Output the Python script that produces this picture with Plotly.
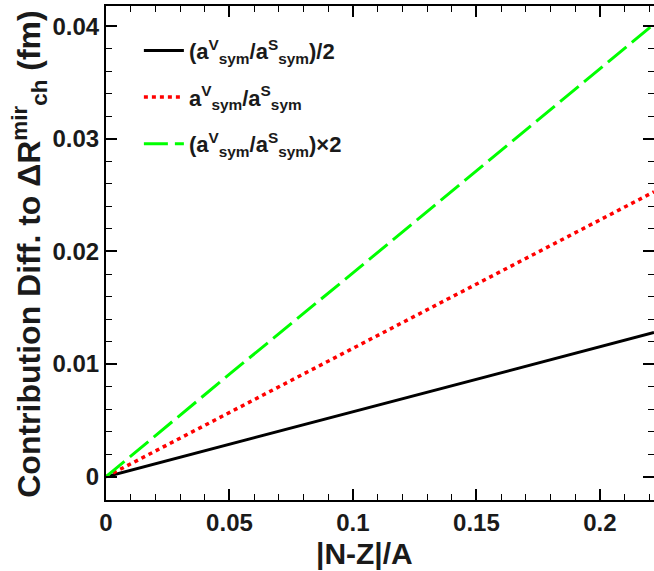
import plotly.graph_objects as go

# Data
x_vals = [0.0, 0.05, 0.1, 0.15, 0.2, 0.2219]
half_vals = [0.0, 0.00288, 0.00575, 0.00865, 0.01155, 0.01280]
one_vals = [0.0, 0.0057, 0.0114, 0.0171, 0.0228, 0.0253]
double_vals = [0.0, 0.0091, 0.0181, 0.0272, 0.0363, 0.0402]

x_tickvals = [0, 0.05, 0.1, 0.15, 0.2]
x_ticktext = ["0", "0.05", "0.1", "0.15", "0.2"]
y_tickvals = [0, 0.01, 0.02, 0.03, 0.04]
y_ticktext = ["0", "0.01", "0.02", "0.03", "0.04"]

names = [
    "(a<sup>V</sup><sub>sym</sub>/a<sup>S</sup><sub>sym</sub>)/2",
    "a<sup>V</sup><sub>sym</sub>/a<sup>S</sup><sub>sym</sub>",
    "(a<sup>V</sup><sub>sym</sub>/a<sup>S</sup><sub>sym</sub>)×2",
]
x_title = "|N-Z|/A"
y_title = "Contribution Diff. to ΔR<sup>mir</sup><sub>ch</sub> (fm)"

FONT = "Liberation Sans, Arial, Helvetica, sans-serif"
TXT = "#1a1a1a"

fig = go.Figure()
fig.add_trace(go.Scatter(x=x_vals, y=half_vals, mode="lines", name=names[0], legendgroup="a",
                         line=dict(color="black", width=3, dash="solid")))
fig.add_trace(go.Scatter(x=x_vals, y=one_vals, mode="lines", name=names[1], legendgroup="b",
                         line=dict(color="#ff0000", width=3.5, dash="4px,4px")))
fig.add_trace(go.Scatter(x=x_vals, y=double_vals, mode="lines", name=names[2], legendgroup="c",
                         line=dict(color="#00ff00", width=3, dash="24px,7px")))

axis_common = dict(
    showline=True, linecolor="black", linewidth=2, mirror="ticks",
    ticks="inside", tickcolor="black", tickwidth=1.5,
    showgrid=False, zeroline=False, automargin=False,
    tickfont=dict(family=FONT, size=24, color=TXT, weight="bold"),
)

fig.update_xaxes(
    range=[0, 0.2219], tickvals=x_tickvals, ticktext=x_ticktext, ticklen=11,
    minor=dict(ticks="inside", ticklen=6, dtick=0.01, tickcolor="black", tickwidth=1.2),
    **axis_common,
)
fig.update_yaxes(
    range=[-0.00207, 0.0418], tickvals=y_tickvals, ticktext=y_ticktext, ticklen=11,
    minor=dict(ticks="inside", ticklen=6, dtick=0.002, tickcolor="black", tickwidth=1.2),
    **axis_common,
)

fig.add_annotation(text=x_title, xref="paper", yref="paper", x=0.472, y=-0.108,
                   xanchor="center", yanchor="middle", showarrow=False,
                   font=dict(family=FONT, size=30, color=TXT, weight="bold"))
fig.add_annotation(text=y_title, xref="paper", yref="paper", x=-0.14, y=0.497,
                   xanchor="center", yanchor="middle", showarrow=False, textangle=-90,
                   font=dict(family=FONT, size=32, color=TXT, weight="bold"))

fig.update_layout(
    width=654, height=571,
    margin=dict(l=106, r=0, t=6, b=71),
    paper_bgcolor="white", plot_bgcolor="white",
    showlegend=True,
    legend=dict(x=0.06, y=0.952, xanchor="left", yanchor="top",
                bgcolor="rgba(0,0,0,0)", borderwidth=0,
                font=dict(family=FONT, size=22, color=TXT, weight="bold"),
                tracegroupgap=15, itemwidth=40),
)

fig.write_html("out.html", post_script="document.body.style.margin='0';",
               config={"displayModeBar": False})
